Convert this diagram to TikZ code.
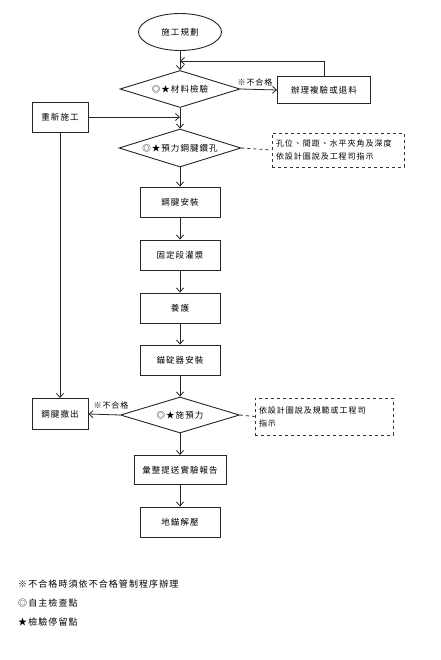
\documentclass[tikz,border=0pt]{standalone}
\usepackage{fontspec}
\setmainfont{Noto Sans CJK TC}[LetterSpace=12]
\usetikzlibrary{shapes.geometric,arrows.meta,positioning}
\tikzset{
  base/.style={draw=black!85, line width=0.9pt, inner sep=0pt, font=\fontsize{8.5}{10}\selectfont},
  stepbox/.style={base, rectangle, minimum width=80pt, minimum height=30pt},
  decide/.style={base, diamond, aspect=3.2, minimum width=120pt, minimum height=37pt},
  notebox/.style={draw=black!80, dashed, line width=0.8pt, inner sep=4pt, align=left, font=\fontsize{8}{13}\selectfont},
  arr/.style={draw=black!85, line width=0.8pt, -{Straight Barb[length=4pt,width=7pt]}},
  link/.style={draw=black!85, line width=0.8pt},
  dlink/.style={draw=black!80, line width=0.8pt, dashed},
  lbl/.style={font=\fontsize{8}{10}\selectfont, inner sep=0pt},
  legend/.style={font=\fontsize{9}{10}\selectfont, anchor=west, inner sep=0pt}
}
\begin{document}
\begin{tikzpicture}[x=1pt,y=-1pt]
\useasboundingbox (0,0) rectangle (440,660);
\fill[white] (0,0) rectangle (440,660);

\node[base, ellipse, minimum width=83pt, minimum height=37pt] (start) at (180,32) {施工規劃};
\node[decide] (d1) at (180,89) {◎★材料檢驗};
\node[stepbox, minimum width=93pt, minimum height=27pt] (r1) at (324,90) {辦理複驗或退料};
\node[stepbox, minimum width=56pt, minimum height=30pt] (redo) at (60,117) {重新施工};
\node[decide, minimum width=122pt, minimum height=38pt] (d2) at (180,148) {◎★預力鋼腱鑽孔};
\node[notebox, minimum width=132pt, minimum height=34pt, text width=124pt] (note1) at (338,150) {孔位、間距、水平夾角及深度\\依設計圖說及工程司指示};
\node[stepbox] (n1) at (180,202) {鋼腱安裝};
\node[stepbox] (n2) at (180,255) {固定段灌漿};
\node[stepbox] (n3) at (180,308) {養護};
\node[stepbox] (n4) at (180,360) {錨碇器安裝};
\node[decide, minimum width=119pt, minimum height=36pt] (d3) at (180,415) {◎★施預力};
\node[stepbox, minimum width=56pt, minimum height=31pt] (out) at (60,414) {鋼腱撤出};
\node[notebox, minimum width=138pt, minimum height=37pt, text width=130pt] (note2) at (324,416.5) {依設計圖說及規範或工程司\\指示};
\node[stepbox, minimum width=92pt, minimum height=29pt] (n5) at (180,470) {彙整提送實驗報告};
\node[stepbox] (n6) at (180,522) {地錨解壓};

\node[lbl] (lab1) at (255,82) {※不合格};
\node[lbl] (lab2) at (111,405) {※不合格};

\coordinate (fb) at (180,61);
\coordinate (j1) at (180,117);

\draw[arr] (start) -- (d1);
\draw[arr] (r1.north) |- (fb);
\draw[arr] (d1.east) -- (r1.west);
\draw[arr] (d1) -- (d2);
\draw[arr] (redo.east) -- (j1);
\draw[arr] (redo.south) -- (out.north);
\draw[dlink] (d2.east) -- (note1.west);
\draw[arr] (d2) -- (n1);
\draw[arr] (n1) -- (n2);
\draw[arr] (n2) -- (n3);
\draw[arr] (n3) -- (n4);
\draw[arr] (n4) -- (d3);
\draw[arr] (d3.west) -- (out.east);
\draw[dlink] (d3.east) -- (note2.west);
\draw[arr] (d3) -- (n5);
\draw[arr] (n5) -- (n6);

\node[legend] (l1) at (18,584) {※不合格時須依不合格管制程序辦理};
\node[legend] (l2) at (18,603) {◎自主檢查點};
\node[legend] (l3) at (18,622) {★檢驗停留點};
\end{tikzpicture}
\end{document}
